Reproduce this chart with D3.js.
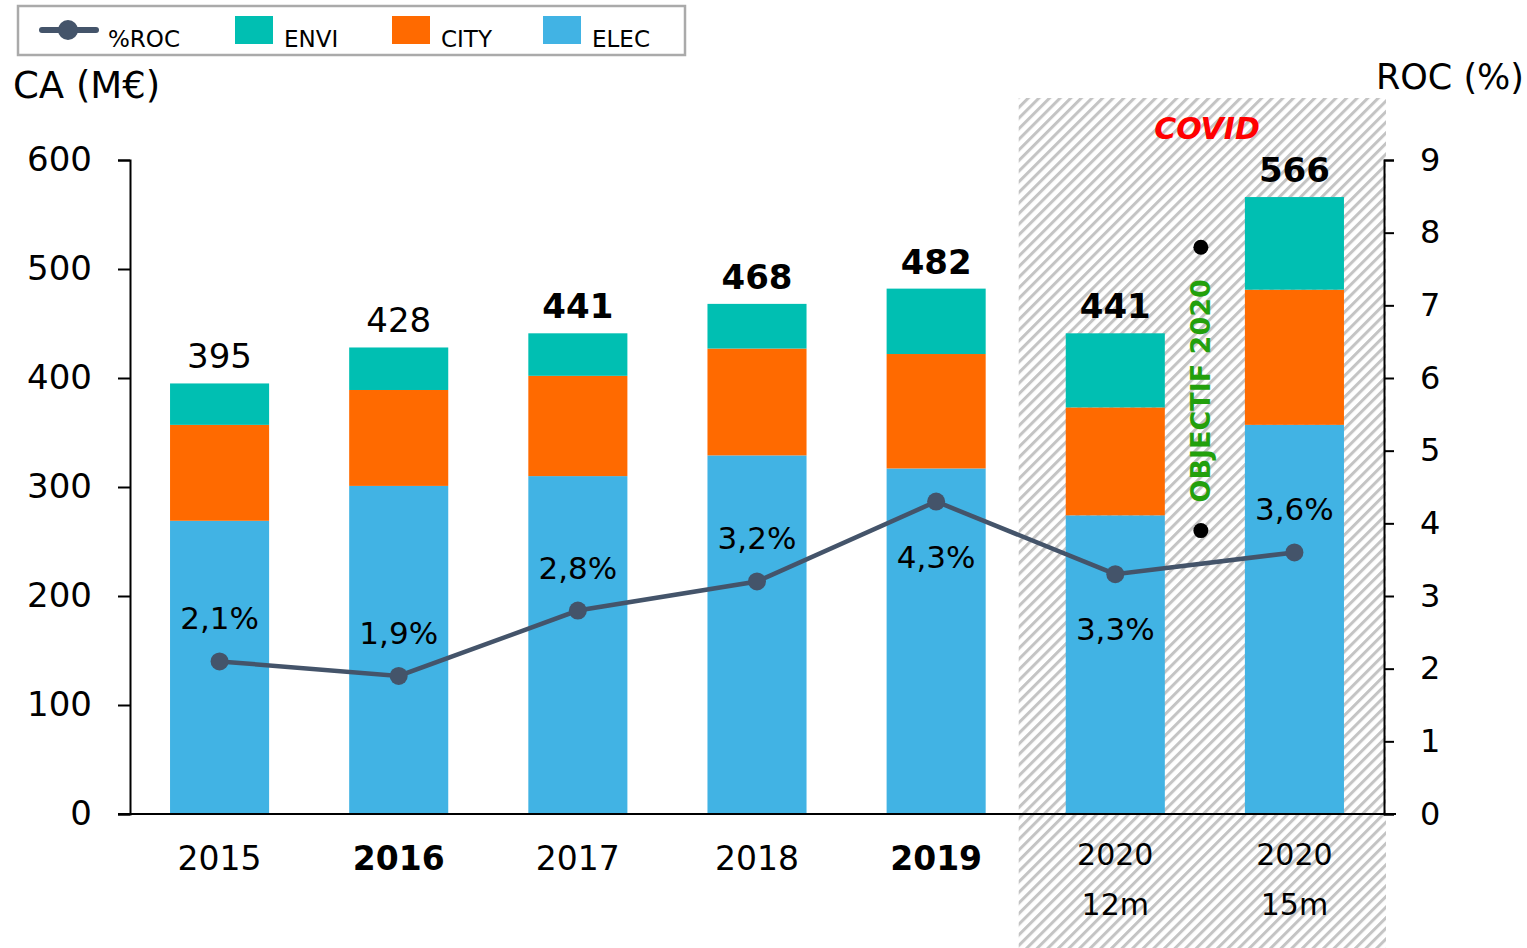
<!DOCTYPE html>
<html>
<head>
<meta charset="utf-8">
<script src="https://cdn.jsdelivr.net/npm/d3@7"></script>
<style>
  body { margin: 0; background: #fff; }
  svg text { font-family: "DejaVu Sans", "Noto Sans", sans-serif; fill: #000; }
</style>
</head>
<body>
<svg id="chart" width="1527" height="948"></svg>
<script>
// data
var years = ['2015', '2016', '2017', '2018', '2019', '2020 12m', '2020 15m'];
var yearLines = [['2015'], ['2016'], ['2017'], ['2018'], ['2019'], ['2020', '12m'], ['2020', '15m']];
var boldYears = ['2016', '2019'];
var elec = [269, 301, 310, 329, 317, 274, 357];
var city = [88, 88, 92, 98, 105, 99, 124];
var envi = [38, 39, 39, 41, 60, 68, 85];
var totals = [395, 428, 441, 468, 482, 441, 566];
var boldTotals = [false, false, true, true, true, true, true];
var roc = [2.1, 1.9, 2.8, 3.2, 4.3, 3.3, 3.6];
var rocLabelBelow = [false, false, false, false, true, true, false];
var objectif = [7.8, 3.9];
var leftTicks = [0, 100, 200, 300, 400, 500, 600];
var rightTicks = [0, 1, 2, 3, 4, 5, 6, 7, 8, 9];

var seriesKeys = ['elec', 'city', 'envi'];
var seriesColors = { elec: '#41b3e4', city: '#ff6a00', envi: '#00bfb2' };
var lineColor = '#44546a';

var svg = d3.select('#chart');

var plotLeft = 130, plotRight = 1384, plotTop = 160, plotBottom = 814;

var x = d3.scaleBand().domain(years).range([plotLeft, plotRight]).paddingInner(0.447).paddingOuter(0.2235);
var y = d3.scaleLinear().domain([0, 600]).range([plotBottom, plotTop]);
var yRoc = d3.scaleLinear().domain([0, 9]).range([plotBottom, plotTop]);

function cx(i) { return x(years[i]) + x.bandwidth() / 2; }

// stacked table
var table = years.map(function (yy, i) {
    return { year: yy, elec: elec[i], city: city[i], envi: envi[i] };
});
var stacked = d3.stack().keys(seriesKeys)(table);

// hatched covid zone
var defs = svg.append('defs');
var pat = defs.append('pattern')
    .attr('id', 'hatch')
    .attr('patternUnits', 'userSpaceOnUse')
    .attr('width', 7.5).attr('height', 7.5)
    .attr('patternTransform', 'rotate(45)');
pat.append('rect').attr('width', 7.5).attr('height', 7.5).attr('fill', '#fff');
pat.append('rect').attr('x', 0).attr('width', 3).attr('height', 7.5).attr('fill', '#c4c4c4');

var zoneX0 = x('2020 12m') - (x.step() - x.bandwidth()) / 2 - 7;
svg.append('rect')
    .attr('x', zoneX0)
    .attr('y', 98)
    .attr('width', plotRight + 2 - zoneX0)
    .attr('height', 948 - 98)
    .attr('fill', 'url(#hatch)');

// bars
svg.append('g').selectAll('g')
    .data(stacked)
    .join('g')
    .attr('fill', function (d) { return seriesColors[d.key]; })
    .selectAll('rect')
    .data(function (d) { return d; })
    .join('rect')
    .attr('x', function (d) { return x(d.data.year); })
    .attr('y', function (d) { return y(d[1]); })
    .attr('height', function (d) { return y(d[0]) - y(d[1]); })
    .attr('width', x.bandwidth());

// totals
svg.append('g').selectAll('text')
    .data(totals)
    .join('text')
    .attr('x', function (d, i) { return cx(i); })
    .attr('y', function (d) { return y(d) - 15; })
    .attr('text-anchor', 'middle')
    .attr('font-size', 34)
    .attr('font-weight', function (d, i) { return boldTotals[i] ? 'bold' : 'normal'; })
    .text(function (d) { return d; });

// left axis
var gl = svg.append('g').attr('transform', 'translate(' + plotLeft + ',0)')
    .call(d3.axisLeft(y).tickValues(leftTicks).tickSize(12).tickPadding(26));
gl.select('.domain').attr('stroke', '#000').attr('stroke-width', 2);
gl.selectAll('line').attr('stroke-width', 2);
gl.selectAll('text').attr('font-size', 34).style('font-family', '"DejaVu Sans", sans-serif');

// right axis
var gr = svg.append('g').attr('transform', 'translate(' + plotRight + ',0)')
    .call(d3.axisRight(yRoc).tickValues(rightTicks).tickSize(10).tickPadding(26));
gr.select('.domain').attr('stroke', '#000').attr('stroke-width', 2);
gr.selectAll('line').attr('stroke-width', 2);
gr.selectAll('text').attr('font-size', 32).style('font-family', '"DejaVu Sans", sans-serif');

// baseline
svg.append('line')
    .attr('x1', plotLeft - 12).attr('x2', plotRight + 12)
    .attr('y1', plotBottom).attr('y2', plotBottom)
    .attr('stroke', '#000').attr('stroke-width', 2);

// x labels
var xl = svg.append('g').selectAll('text')
    .data(yearLines)
    .join('text')
    .attr('x', function (d, i) { return cx(i); })
    .attr('y', function (d) { return d.length > 1 ? 865 : 870; })
    .attr('text-anchor', 'middle')
    .attr('font-size', function (d) { return d.length > 1 ? 30 : 33; })
    .attr('font-weight', function (d) { return boldYears.indexOf(d[0]) >= 0 && d.length === 1 ? 'bold' : 'normal'; });
xl.selectAll('tspan')
    .data(function (d) { return d; })
    .join('tspan')
    .attr('x', function () { return d3.select(this.parentNode).attr('x'); })
    .attr('dy', function (d, i) { return i === 0 ? 0 : 50; })
    .text(function (d) { return d; });

// roc line
var line = d3.line()
    .x(function (d, i) { return cx(i); })
    .y(function (d) { return yRoc(d); });
svg.append('path')
    .datum(roc)
    .attr('d', line)
    .attr('fill', 'none')
    .attr('stroke', lineColor)
    .attr('stroke-width', 4.5);
svg.append('g').selectAll('circle')
    .data(roc)
    .join('circle')
    .attr('cx', function (d, i) { return cx(i); })
    .attr('cy', function (d) { return yRoc(d); })
    .attr('r', 9)
    .attr('fill', lineColor);
svg.append('g').selectAll('text')
    .data(roc)
    .join('text')
    .attr('x', function (d, i) { return cx(i); })
    .attr('y', function (d, i) { return yRoc(d) + (rocLabelBelow[i] ? 66 : -32); })
    .attr('text-anchor', 'middle')
    .attr('font-size', 31)
    .text(function (d) { return d3.format('.1f')(d).replace('.', ',') + '%'; });

// objectif 2020 marker
var objX = (x('2020 12m') + x.bandwidth() + x('2020 15m')) / 2 - 4;
svg.append('g').selectAll('circle')
    .data(objectif)
    .join('circle')
    .attr('cx', objX)
    .attr('cy', function (d) { return yRoc(d); })
    .attr('r', 7.5)
    .attr('fill', '#000');
svg.append('text')
    .attr('transform', 'translate(' + (objX + 9) + ',' + (yRoc((objectif[0] + objectif[1]) / 2) + 2) + ') rotate(-90)')
    .attr('text-anchor', 'middle')
    .attr('font-size', 27)
    .attr('font-weight', 'bold')
    .style('fill', '#23a00c')
    .text('OBJECTIF 2020');

// covid label
svg.append('text')
    .attr('x', 1207).attr('y', 139)
    .attr('text-anchor', 'middle')
    .attr('font-size', 30)
    .attr('font-style', 'italic')
    .attr('font-weight', 'bold')
    .style('fill', '#ff0000')
    .text('COVID');

// axis titles
svg.append('text').attr('x', 13).attr('y', 98).attr('font-size', 37).text('CA (M€)');
svg.append('text').attr('x', 1524).attr('y', 89).attr('text-anchor', 'end').attr('font-size', 35).text('ROC (%)');

// legend
var lg = svg.append('g');
lg.append('rect').attr('x', 18).attr('y', 6).attr('width', 667).attr('height', 49)
    .attr('fill', '#fff').attr('stroke', '#aaa').attr('stroke-width', 2.5);
lg.append('line').attr('x1', 42).attr('x2', 96).attr('y1', 30).attr('y2', 30)
    .attr('stroke', lineColor).attr('stroke-width', 6).attr('stroke-linecap', 'round');
lg.append('circle').attr('cx', 68).attr('cy', 30).attr('r', 10).attr('fill', lineColor);
lg.append('text').attr('x', 108).attr('y', 47).attr('font-size', 23).text('%ROC');
var legendItems = [
    { label: 'ENVI', key: 'envi', x: 235 },
    { label: 'CITY', key: 'city', x: 392 },
    { label: 'ELEC', key: 'elec', x: 543 }
];
legendItems.forEach(function (it) {
    lg.append('rect').attr('x', it.x).attr('y', 16).attr('width', 38).attr('height', 28)
        .attr('fill', seriesColors[it.key]);
    lg.append('text').attr('x', it.x + 49).attr('y', 47).attr('font-size', 23).text(it.label);
});
</script>
</body>
</html>
